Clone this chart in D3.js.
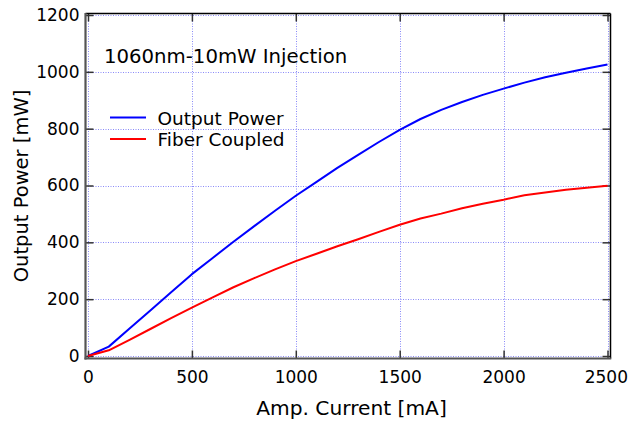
<!DOCTYPE html>
<html>
<head>
<meta charset="utf-8">
<script src="https://cdn.jsdelivr.net/npm/d3@7"></script>
<style>
  html, body { margin: 0; padding: 0; background: #fff; }
  svg { display: block; font-family: "DejaVu Sans", sans-serif; }
</style>
</head>
<body>
<svg id="chart" width="628" height="423"></svg>
<script>
// ---- data ----
const current = [0,100,200,300,400,500,600,700,800,900,1000,1100,1200,1300,1400,1500,1600,1700,1800,1900,2000,2100,2200,2300,2400,2500];
const outputPower = [0,33,97,160,224,288,345,402,457,511,564,613,662,708,753,796,834,866,894,919,941,962,981,997,1012,1026];
const fiberCoupled = [0,20,57,95,133,170,206,242,274,305,334,360,386,411,437,462,484,501,520,536,550,566,575,585,592,599];
const xTicks = [0,500,1000,1500,2000,2500];
const yTicks = [0,200,400,600,800,1000,1200];
const seriesNames = ["Output Power","Fiber Coupled"];
const seriesColors = ["#0000ff","#ff0000"];
const titleText = "1060nm-10mW Injection";
const xTitle = "Amp. Current [mA]";
const yTitle = "Output Power [mW]";

// ---- scales ----
const svg = d3.select("#chart");
const x = d3.scaleLinear().domain([0,2500]).range([88,607.5]);
const y = d3.scaleLinear().domain([0,1200]).range([356,15]);
const fL = 85.5, fR = 610.5, fT = 13.5, fB = 358.5;
const fmt = d3.format("d");

// grid
const grid = svg.append("g").attr("stroke","#8a8af8").attr("stroke-width",1).attr("stroke-dasharray","1,1.5");
grid.selectAll(".gx").data(xTicks).enter().append("line")
  .attr("x1",d=>Math.round(x(d))+0.5).attr("x2",d=>Math.round(x(d))+0.5)
  .attr("y1",fT).attr("y2",fB);
grid.selectAll(".gy").data(yTicks).enter().append("line")
  .attr("y1",d=>Math.round(y(d))+0.5).attr("y2",d=>Math.round(y(d))+0.5)
  .attr("x1",fL).attr("x2",fR);

// axes with inward ticks
const tickLen = 8;
svg.append("g").attr("transform",`translate(0,${fB})`)
  .call(d3.axisBottom(x).tickValues(xTicks).tickFormat(fmt).tickSizeInner(-tickLen).tickSizeOuter(0).tickPadding(12))
  .call(g=>{ g.select(".domain").remove();
    g.selectAll("line").attr("stroke","#333").attr("stroke-width",1.5);
    g.selectAll("text").attr("font-size",17).attr("fill","#000").attr("font-family","DejaVu Sans");
    g.selectAll(".tick").filter(d=>d===2500).select("text").attr("text-anchor","end").attr("dx",20);});
svg.append("g").attr("transform",`translate(0,${fT})`)
  .call(d3.axisTop(x).tickValues(xTicks).tickSizeInner(-tickLen).tickSizeOuter(0).tickFormat(""))
  .call(g=>{ g.select(".domain").remove(); g.selectAll("line").attr("stroke","#333").attr("stroke-width",1.5);});
svg.append("g").attr("transform",`translate(${fL},0)`)
  .call(d3.axisLeft(y).tickValues(yTicks).tickFormat(fmt).tickSizeInner(-tickLen).tickSizeOuter(0).tickPadding(6))
  .call(g=>{ g.select(".domain").remove();
    g.selectAll("line").attr("stroke","#333").attr("stroke-width",1.5);
    g.selectAll("text").attr("font-size",17).attr("fill","#000").attr("font-family","DejaVu Sans");});
svg.append("g").attr("transform",`translate(${fR},0)`)
  .call(d3.axisRight(y).tickValues(yTicks).tickSizeInner(-tickLen).tickSizeOuter(0).tickFormat(""))
  .call(g=>{ g.select(".domain").remove(); g.selectAll("line").attr("stroke","#333").attr("stroke-width",1.5);});

// frame
svg.append("line").attr("x1",fL).attr("x2",fR).attr("y1",fT).attr("y2",fT).attr("stroke","#000").attr("stroke-width",1.5);
svg.append("line").attr("x1",fR).attr("x2",fR).attr("y1",fT).attr("y2",fB).attr("stroke","#000").attr("stroke-width",1.5);
svg.append("line").attr("x1",fL).attr("x2",fL).attr("y1",fT-0.5).attr("y2",fB+1).attr("stroke","#555").attr("stroke-width",2.2);
svg.append("line").attr("x1",fL-1).attr("x2",fR+0.75).attr("y1",fB).attr("y2",fB).attr("stroke","#555").attr("stroke-width",2.2);

// lines
const line = d3.line().x((d,i)=>x(current[i])).y(d=>y(d));
[outputPower, fiberCoupled].forEach((s,k)=>{
  svg.append("path").datum(s).attr("d",line).attr("fill","none")
    .attr("stroke",seriesColors[k]).attr("stroke-width",2).attr("stroke-linejoin","round");
});

// title
svg.append("text").attr("x",104).attr("y",63).attr("font-size",19.7).attr("fill","#000").text(titleText);

// legend
const legY = [117.5, 139];
seriesNames.forEach((n,k)=>{
  svg.append("line").attr("x1",110).attr("x2",146).attr("y1",legY[k]).attr("y2",legY[k])
    .attr("stroke",seriesColors[k]).attr("stroke-width",2);
  svg.append("text").attr("x",157.5).attr("y",legY[k]+7).attr("font-size",18.5).attr("fill","#000").text(n);
});

// axis titles
svg.append("text").attr("x",(fL+fR)/2+3.5).attr("y",415).attr("text-anchor","middle")
  .attr("font-size",20.2).attr("fill","#000").text(xTitle);
svg.append("text").attr("transform",`translate(28,${(y(0)+y(1200))/2+0.5}) rotate(-90)`)
  .attr("text-anchor","middle").attr("font-size",19.5).attr("fill","#000").text(yTitle);
</script>
</body>
</html>
